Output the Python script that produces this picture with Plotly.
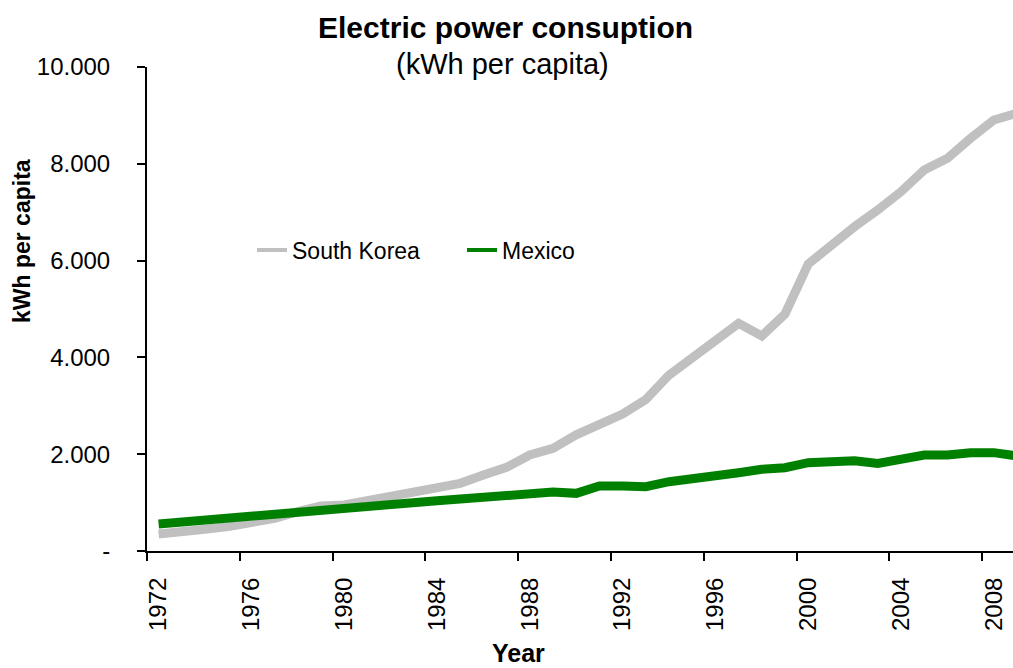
import plotly.graph_objects as go

years = list(range(1972, 2010))

south_korea = [351, 379, 448, 503, 586, 675, 813, 930, 950, 1040,
               1088, 1205, 1315, 1398, 1570, 1729, 1983, 2121, 2400, 2600,
               2830, 3130, 3636, 3988, 4325, 4704, 4442, 4897, 5930, 6322,
               6701, 7045, 7424, 7872, 8113, 8526, 8905, 9044]

mexico = [558, 599, 640, 682, 723, 764, 806, 847, 888, 930,
          999, 999, 1040, 1074, 1109, 1143, 1178, 1219, 1191, 1343,
          1343, 1329, 1432, 1481, 1570, 1618, 1687, 1722, 1825, 1825,
          1866, 1811, 1894, 1983, 1983, 2032, 2032, 1963]

y_ticks = [0, 2000, 4000, 6000, 8000, 10000]
y_labels = ['-', '2.000', '4.000', '6.000', '8.000', '10.000']
x_ticks = list(range(1972, 2010, 4))

font = 'Liberation Sans, Arial, sans-serif'
grey = '#C0C0C0'
green = '#008000'

W, H = 1013, 668
L, R, T, B = 147, 0, 67, 117
pw, ph = W - L - R, H - T - B


def px(x, y):
    # pixel position -> paper coordinates
    return (x - L) / pw, (H - B - y) / ph


fig = go.Figure()
fig.add_trace(go.Scatter(x=years, y=south_korea, mode='lines',
                         line=dict(color=grey, width=9), showlegend=False))
fig.add_trace(go.Scatter(x=years, y=mexico, mode='lines',
                         line=dict(color=green, width=9), showlegend=False))
# legend entries with thinner lines
fig.add_trace(go.Scatter(x=[None], y=[None], mode='lines', name='South Korea',
                         line=dict(color=grey, width=4)))
fig.add_trace(go.Scatter(x=[None], y=[None], mode='lines', name='Mexico',
                         line=dict(color=green, width=4)))

texts = [
    ('<b>Electric power consuption</b>', 505, 28, 30, 0),
    ('(kWh per capita)', 502, 64, 29, 0),
    ('<b>kWh per capita</b>', 22, 241, 23, -90),
    ('<b>Year</b>', 518, 653, 25, 0),
]
anns = []
for t, x, y, s, a in texts:
    ax, ay = px(x, y)
    anns.append(dict(text=t, x=ax, y=ay, xref='paper', yref='paper',
                     xanchor='center', yanchor='middle', showarrow=False,
                     textangle=a, font=dict(size=s)))

lx, ly = px(252, 250)
fig.update_layout(
    width=W, height=H,
    margin=dict(l=L, r=R, t=T, b=B),
    plot_bgcolor='white', paper_bgcolor='white',
    font=dict(family=font, color='black', size=22),
    legend=dict(orientation='h', x=lx, y=ly, yanchor='middle',
                xanchor='left', font=dict(size=23), bgcolor='rgba(0,0,0,0)',
                entrywidth=165, entrywidthmode='pixels'),
    annotations=anns,
)

fig.update_xaxes(
    range=[1971.5, 1971.5 + pw / 23.2],
    tickmode='array', tickvals=x_ticks, ticktext=[str(v) for v in x_ticks],
    tickangle=-90, tickfont=dict(size=24),
    ticks='outside', ticklen=0, ticklabelstandoff=15,
    minor=dict(tickmode='array', tickvals=[v - 0.5 for v in x_ticks],
               ticks='outside', ticklen=8, tickwidth=2, tickcolor='black'),
    showline=True, linecolor='black', linewidth=2,
    showgrid=False, zeroline=False,
)
fig.update_yaxes(
    range=[0, 10000],
    tickmode='array', tickvals=y_ticks, ticktext=y_labels,
    tickfont=dict(size=24),
    ticks='outside', ticklen=8, tickwidth=2, tickcolor='black',
    ticklabelstandoff=22,
    showline=True, linecolor='black', linewidth=2,
    showgrid=False, zeroline=False,
)

fig.write_html('out.html', config={'displayModeBar': False},
               post_script="document.body.style.margin='0';"
                           "document.body.style.overflow='hidden';")
